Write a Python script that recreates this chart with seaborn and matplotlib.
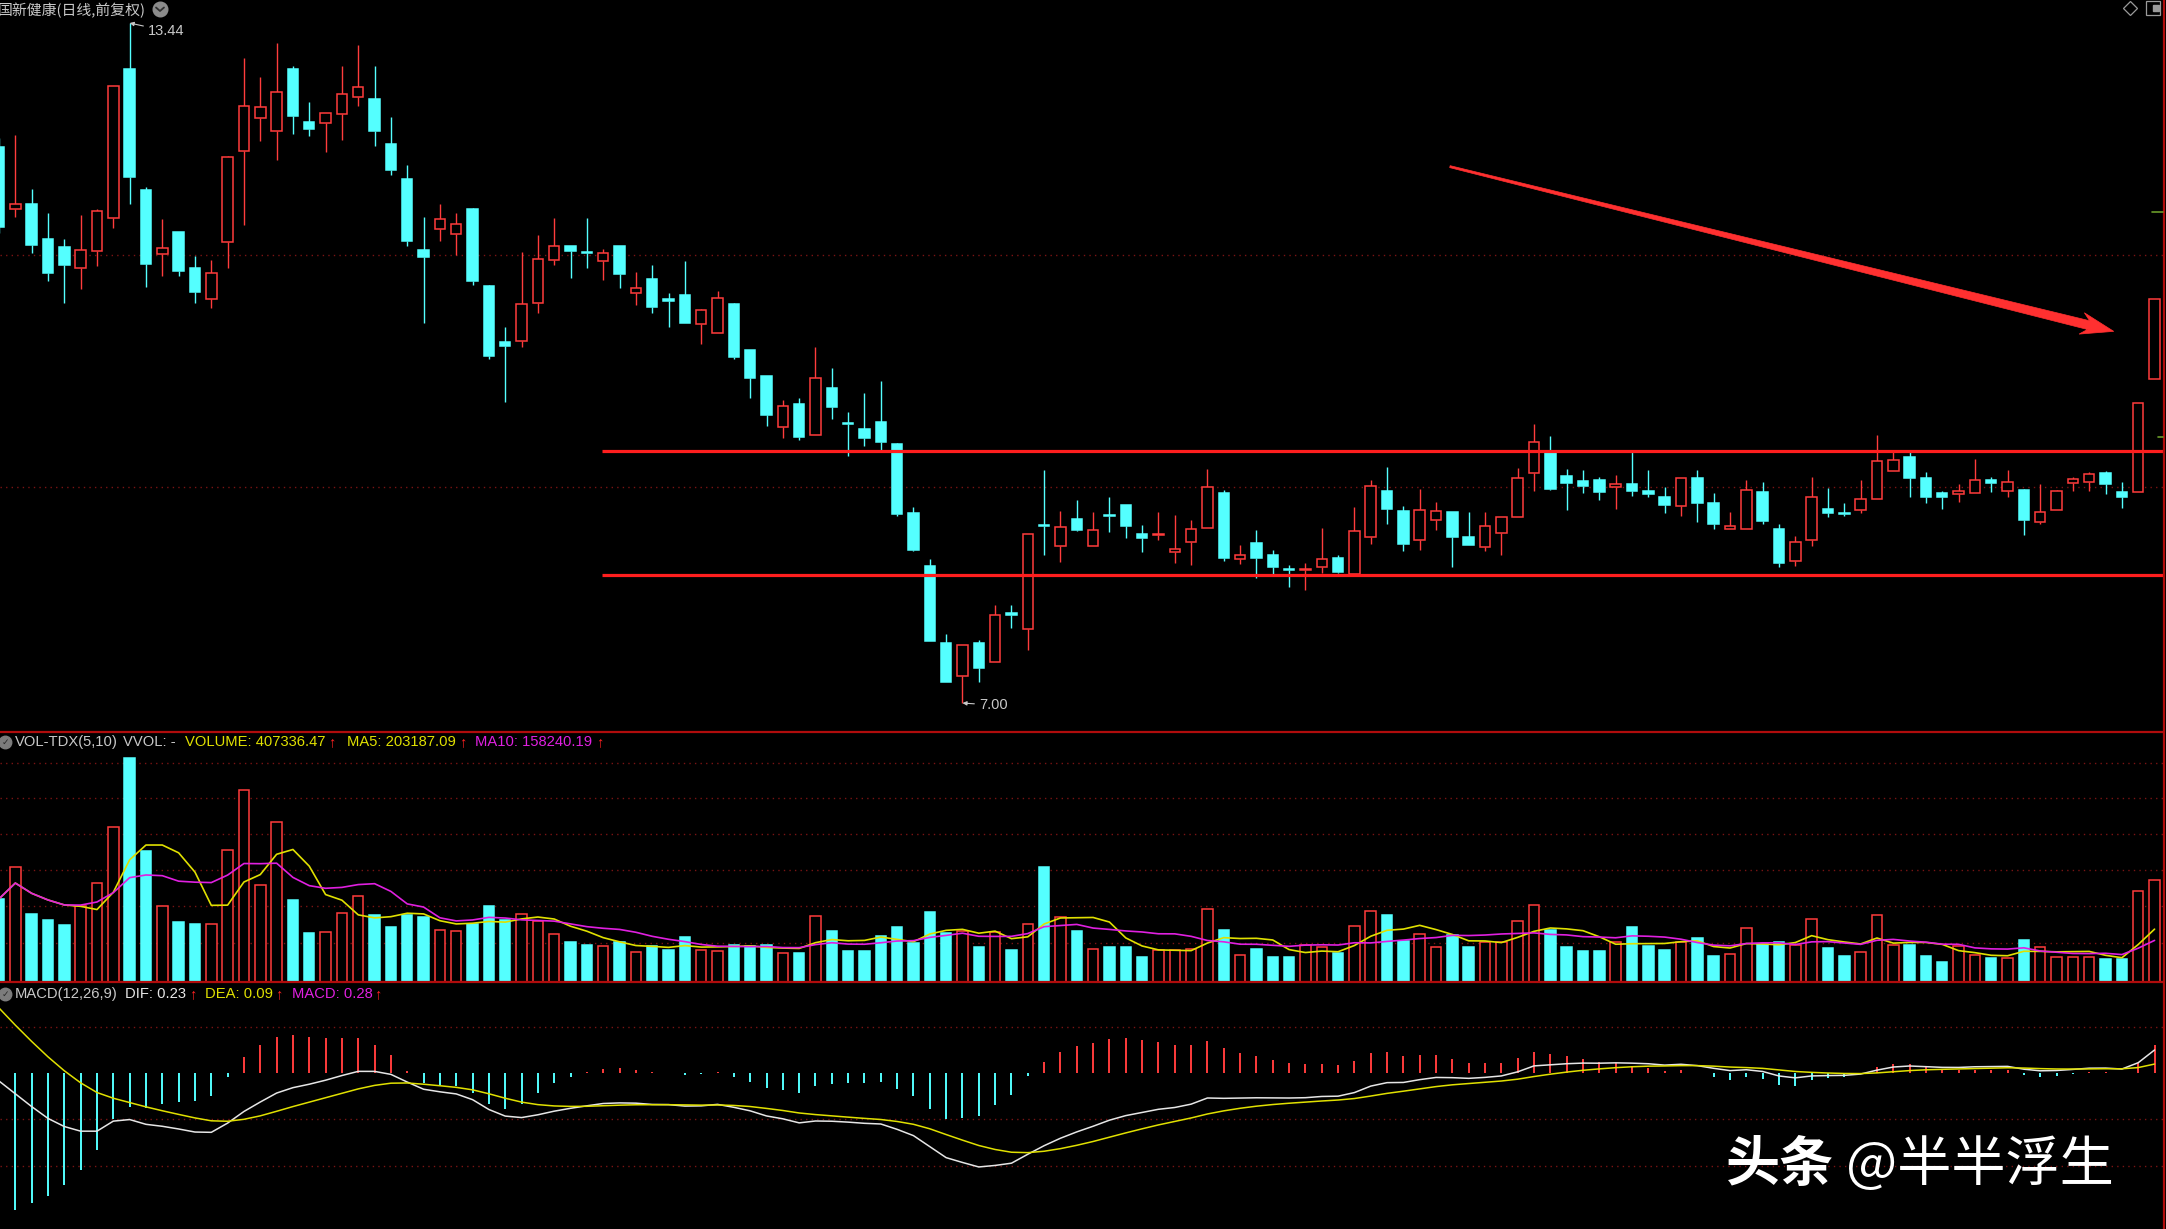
import numpy as np
import pandas as pd
import matplotlib
matplotlib.use("Agg")
import matplotlib.pyplot as plt
import matplotlib.transforms as mtransforms
from matplotlib.lines import Line2D
from matplotlib.patches import Polygon
import seaborn as sns

# ---------------- data ----------------
opens = [12.27, 11.68, 11.73, 11.39, 11.32, 11.12, 11.28, 11.59, 13.00, 11.86,
         11.25, 11.46, 11.12, 10.83, 11.37, 12.23, 12.54, 12.42, 13.00, 12.50,
         12.49, 12.58, 12.74, 12.72, 12.29, 11.96, 11.29, 11.49, 11.44, 11.68,
         10.95, 10.42, 10.43, 10.79, 11.20, 11.33, 11.27, 11.19, 11.33, 10.88,
         11.02, 10.83, 10.86, 10.59, 10.50, 10.78, 10.34, 10.10, 9.61, 9.83,
         9.54, 9.98, 9.65, 9.60, 9.66, 9.45, 8.80, 8.30, 7.57, 7.26,
         7.57, 7.39, 7.85, 7.70, 8.69, 8.49, 8.74, 8.49, 8.78, 8.88,
         8.60, 8.59, 8.43, 8.53, 8.66, 8.99, 8.36, 8.52, 8.40, 8.27,
         8.26, 8.29, 8.37, 8.22, 8.57, 9.01, 8.82, 8.54, 8.73, 8.81,
         8.57, 8.48, 8.61, 8.76, 9.18, 9.39, 9.15, 9.10, 9.11, 9.05,
         9.07, 9.01, 8.95, 8.87, 9.13, 8.89, 8.65, 8.65, 9.00, 8.65,
         8.35, 8.54, 8.84, 8.80, 8.83, 8.93, 9.20, 9.33, 9.13, 8.99,
         8.98, 8.99, 9.11, 9.01, 9.02, 8.71, 8.83, 9.08, 9.09, 9.18,
         9.00, 9.00, 10.07]
highs = [12.35, 12.38, 11.87, 11.64, 11.39, 11.62, 11.68, 12.84, 13.44, 11.89,
         11.58, 11.46, 11.23, 11.20, 12.18, 13.11, 12.93, 13.25, 13.03, 12.69,
         12.59, 13.03, 13.23, 13.03, 12.55, 12.10, 11.60, 11.73, 11.64, 11.69,
         10.96, 10.56, 11.27, 11.43, 11.59, 11.33, 11.59, 11.30, 11.33, 11.08,
         11.15, 10.88, 11.19, 10.73, 10.90, 10.79, 10.34, 10.10, 9.87, 9.89,
         10.37, 10.17, 9.76, 9.94, 10.05, 9.46, 8.86, 8.36, 7.65, 7.55,
         7.60, 7.93, 7.93, 8.60, 9.21, 8.82, 8.92, 8.81, 8.95, 8.88,
         8.69, 8.81, 8.78, 8.73, 9.22, 9.02, 8.50, 8.64, 8.45, 8.31,
         8.33, 8.66, 8.40, 8.86, 9.11, 9.24, 8.87, 9.03, 8.90, 8.81,
         8.81, 8.81, 8.76, 9.23, 9.64, 9.53, 9.22, 9.21, 9.14, 9.16,
         9.39, 9.21, 9.05, 9.13, 9.21, 8.99, 8.81, 9.11, 9.09, 8.70,
         8.58, 9.14, 9.04, 8.89, 9.11, 9.54, 9.39, 9.39, 9.19, 9.01,
         9.07, 9.31, 9.14, 9.21, 9.03, 9.07, 9.02, 9.14, 9.19, 9.20,
         9.09, 9.84, 10.83]
lows = [11.45, 11.60, 11.26, 11.00, 10.79, 10.92, 11.14, 11.50, 11.73, 10.94,
        11.04, 11.04, 10.79, 10.74, 11.12, 11.53, 12.32, 12.14, 12.39, 12.37,
        12.22, 12.33, 12.65, 12.28, 12.00, 11.33, 10.60, 11.38, 11.24, 10.96,
        10.26, 9.85, 10.37, 10.69, 11.15, 11.03, 11.12, 11.01, 10.93, 10.77,
        10.69, 10.56, 10.60, 10.40, 10.50, 10.26, 9.89, 9.62, 9.51, 9.49,
        9.54, 9.69, 9.34, 9.43, 9.40, 8.77, 8.44, 7.59, 7.20, 7.00,
        7.20, 7.39, 7.71, 7.50, 8.40, 8.34, 8.63, 8.49, 8.62, 8.56,
        8.43, 8.54, 8.33, 8.31, 8.66, 8.35, 8.32, 8.18, 8.20, 8.10,
        8.07, 8.23, 8.23, 8.20, 8.51, 8.70, 8.44, 8.45, 8.64, 8.29,
        8.50, 8.44, 8.40, 8.76, 9.01, 9.02, 8.83, 8.99, 8.92, 8.84,
        8.96, 8.95, 8.80, 8.77, 8.71, 8.65, 8.65, 8.65, 8.70, 8.29,
        8.30, 8.49, 8.76, 8.77, 8.80, 8.93, 9.20, 8.95, 8.89, 8.84,
        8.90, 8.99, 9.00, 8.95, 8.59, 8.70, 8.83, 9.01, 9.01, 8.98,
        8.85, 9.00, 10.07]
closes = [11.51, 11.73, 11.34, 11.07, 11.15, 11.29, 11.66, 12.84, 11.98, 11.16,
          11.31, 11.09, 10.89, 11.07, 12.17, 12.65, 12.64, 12.79, 12.56, 12.44,
          12.59, 12.77, 12.83, 12.42, 12.05, 11.38, 11.22, 11.58, 11.54, 11.00,
          10.29, 10.38, 10.78, 11.21, 11.33, 11.28, 11.26, 11.26, 11.06, 10.93,
          10.75, 10.81, 10.60, 10.72, 10.84, 10.28, 10.08, 9.73, 9.81, 9.52,
          10.08, 9.80, 9.64, 9.51, 9.47, 8.79, 8.45, 7.59, 7.20, 7.55,
          7.33, 7.83, 7.83, 8.60, 8.68, 8.67, 8.64, 8.64, 8.77, 8.68,
          8.56, 8.60, 8.46, 8.65, 9.05, 8.37, 8.40, 8.37, 8.29, 8.26,
          8.27, 8.36, 8.24, 8.63, 9.06, 8.84, 8.51, 8.83, 8.82, 8.57,
          8.50, 8.68, 8.76, 9.13, 9.47, 9.03, 9.08, 9.06, 9.00, 9.07,
          9.01, 8.98, 8.88, 9.13, 8.89, 8.70, 8.68, 9.02, 8.72, 8.33,
          8.53, 8.95, 8.80, 8.79, 8.93, 9.29, 9.30, 9.13, 8.95, 8.95,
          9.01, 9.11, 9.08, 9.09, 8.73, 8.81, 9.01, 9.12, 9.17, 9.07,
          8.95, 9.84, 10.83]
# volume in units of 10,000 shares (万手)
volumes = [33.2, 45.8, 27.2, 24.8, 22.8, 30.4, 39.4, 61.7, 89.6, 52.3,
           30.4, 23.9, 23.2, 23.2, 52.7, 76.6, 38.7, 63.7, 32.8, 19.4,
           19.9, 27.5, 34.4, 26.8, 21.8, 26.8, 26.1, 20.8, 20.4, 23.2,
           30.3, 24.8, 27.2, 24.2, 19.2, 15.9, 14.9, 14.3, 15.9, 11.8,
           14.2, 12.9, 17.9, 12.9, 12.2, 14.9, 14.2, 14.9, 11.5, 11.5,
           26.4, 20.4, 12.5, 12.2, 18.2, 21.8, 15.7, 27.9, 19.5, 20.2,
           14.1, 19.8, 12.9, 23.2, 45.8, 26.1, 20.4, 13.3, 14.1, 14.1,
           10.0, 12.6, 12.6, 13.3, 29.2, 20.8, 10.9, 13.0, 10.0, 10.0,
           14.9, 13.8, 11.7, 22.4, 28.5, 26.8, 16.2, 19.2, 13.9, 18.8,
           14.1, 15.9, 15.9, 24.4, 30.8, 20.8, 14.1, 12.3, 12.3, 15.9,
           21.8, 14.3, 12.6, 15.9, 17.5, 10.5, 11.3, 21.5, 15.1, 15.9,
           14.9, 25.1, 13.5, 10.5, 11.9, 26.8, 14.9, 14.9, 10.5, 8.0,
           14.3, 10.9, 9.6, 9.6, 16.9, 14.1, 10.0, 10.0, 10.0, 9.2,
           9.2, 36.4, 40.7]

support_levels = [9.39, 8.21]          # the two hand-drawn red lines
support_start = 36.9                    # candle position where they begin
arrow_from = (88.85, 12.08)             # hand-drawn red arrow (candle pos, price)
arrow_to = (129.5, 10.52)
# MACD state at the left edge
seed_ema12, seed_dif, seed_dea = 13.4, -0.08, 0.65

title = "国新健康(日线,前复权)"
vol_header = ["VOL-TDX(5,10)", "VVOL: -", "VOLUME: 407336.47", "MA5: 203187.09", "MA10: 158240.19"]
macd_header = ["MACD(12,26,9)", "DIF: 0.23", "DEA: 0.09", "MACD: 0.28"]

# ---------------- style ----------------
sns.set_theme(style="dark", rc={"axes.facecolor": "black", "figure.facecolor": "black",
                                "savefig.facecolor": "black"})
plt.rcParams['font.family'] = ['Liberation Sans', 'Noto Sans CJK SC', 'DejaVu Sans']

RED = "#ff3c3c"
CYAN = "#54ffff"
YEL = "#e0e000"
MAG = "#e020e0"
GRAY = "#c8c8c8"
GRID = "#7a1414"
PANEL = "#b00c0c"

W, H = 2166, 1229
fig = plt.figure(figsize=(W / 100, H / 100), dpi=100)
pix = mtransforms.Affine2D().scale(1.0 / W, -1.0 / H).translate(0, 1) + fig.transFigure

SP = 16.33
RIGHT = 2163
XL = ((0 + 1) / SP, (RIGHT + 1) / SP)


def add_ax(y0, y1, ylim):
    ax = fig.add_axes([0, 1 - y1 / H, RIGHT / W, (y1 - y0) / H])
    ax.set_facecolor("black")
    ax.set_xlim(*XL)
    ax.set_ylim(*ylim)
    ax.set_axis_off()
    return ax


ax_p = add_ax(0, 732, (6.726, 13.658))
ax_v = add_ax(732, 982, (0, 99.8))
ax_m = add_ax(982, 1229, (-1.56, 0.91))

n = len(closes)
x = np.arange(n)
o = np.array(opens); h = np.array(highs); l = np.array(lows); c = np.array(closes)
up = c >= o
col = np.where(up, RED, CYAN)

# grids
for lv in [11.24, 9.05]:
    ax_p.axhline(lv, color=GRID, ls=(0, (1, 3)), lw=1, zorder=0)
for lv in [87.5, 73.6, 59.2, 44.8, 30.5, 15.7]:
    ax_v.axhline(lv, color=GRID, ls=(0, (1, 3)), lw=1, zorder=0)
for lv in [0.46, -0.46, -0.93]:
    ax_m.axhline(lv, color=GRID, ls=(0, (1, 3)), lw=1, zorder=0)

# candles
bt = np.maximum(o, c); bb = np.minimum(o, c)
ax_p.vlines(x, bt, h, colors=col, lw=1.0, zorder=2)
ax_p.vlines(x, l, bb, colors=col, lw=1.0, zorder=2)
ax_p.bar(x, np.maximum(bt - bb, 0.006), bottom=bb, width=0.64,
         color=np.where(up, "black", CYAN), edgecolor=col, linewidth=1.1, zorder=3)

# support lines
ax_p.hlines(support_levels, support_start, XL[1], colors="#ff1e1e", lw=2.3, zorder=4)

# red arrow (built in display space)
p0 = ax_p.transData.transform(arrow_from)
p1 = ax_p.transData.transform(arrow_to)
d = p1 - p0
L = np.hypot(*d)
u = d / L
nv = np.array([-u[1], u[0]])
pts = [(0, -1.0), (L - 26, -4.5), (L - 33, -11), (L, 0), (L - 33, 11), (L - 26, 4.5), (0, 1.0)]
poly = [p0 + s * u + t * nv for s, t in pts]
fig.add_artist(Polygon(poly, closed=True, transform=None, facecolor="#ff3030",
                       edgecolor="#ff3030", lw=0.5, zorder=6))

# high / low labels
ih = int(np.argmax(h)); il = int(np.argmin(l))
ax_p.annotate(f"{h[ih]:.2f}", xy=(ih, h[ih]), xytext=(148, 31), textcoords=pix,
              color=GRAY, fontsize=10.5, va="center", ha="left",
              arrowprops=dict(arrowstyle="-|>", color=GRAY, lw=0.8, mutation_scale=6,
                              shrinkA=1, shrinkB=0))
ax_p.annotate(f"{l[il]:.2f}", xy=(il, l[il]), xytext=(979, 705), textcoords=pix,
              color=GRAY, fontsize=10.5, va="center", ha="left",
              arrowprops=dict(arrowstyle="-|>", color=GRAY, lw=0.8, mutation_scale=6,
                              shrinkA=1, shrinkB=0))

# volume
vol = np.array(volumes)
ax_v.bar(x, vol, width=0.64, color=np.where(up, "black", CYAN), edgecolor=col,
         linewidth=1.1, zorder=2)
vs = pd.Series(vol)
ma5 = vs.rolling(5, min_periods=1).mean()
ma10 = vs.rolling(10, min_periods=1).mean()
sns.lineplot(x=x, y=ma5.values, ax=ax_v, color=YEL, lw=1.2, zorder=4)
sns.lineplot(x=x, y=ma10.values, ax=ax_v, color=MAG, lw=1.2, zorder=4)
ax_v.set_xlim(*XL); ax_v.set_ylim(0, 99.8); ax_v.set_axis_off()

# MACD
e12 = seed_ema12
e26 = seed_ema12 - seed_dif
dea = seed_dea
difs = [seed_dif]; deas = [seed_dea]
for cc in closes[1:]:
    e12 += (cc - e12) * 2 / 13
    e26 += (cc - e26) * 2 / 27
    df = e12 - e26
    dea += (df - dea) * 2 / 10
    difs.append(df); deas.append(dea)
difs = np.array(difs); deas = np.array(deas)
macd = 2 * (difs - deas)
ax_m.vlines(x, 0, macd, colors=np.where(macd >= 0, RED, CYAN), lw=1.4, zorder=2)
sns.lineplot(x=x, y=difs, ax=ax_m, color="#e6e6e6", lw=1.1, zorder=4)
sns.lineplot(x=x, y=deas, ax=ax_m, color=YEL, lw=1.1, zorder=4)
ax_m.set_xlim(*XL); ax_m.set_ylim(-1.56, 0.91); ax_m.set_axis_off()

# panel separators and border
for yy in (732, 982):
    fig.add_artist(Line2D([0, RIGHT], [yy, yy], transform=pix, color=PANEL, lw=1.6))
fig.add_artist(Line2D([RIGHT + 1, RIGHT + 1], [0, H], transform=pix, color=PANEL, lw=1.6))
# small green markers on the right edge
fig.add_artist(Line2D([2152, RIGHT], [212, 212], transform=pix, color="#6a9a2a", lw=1.2))
fig.add_artist(Line2D([2158, RIGHT], [437, 437], transform=pix, color="#6a9a2a", lw=1.2))

# title + icons
fig.text(-2, 10, title, transform=pix, color=GRAY, fontsize=10.7, va="center", ha="left",
         family=["Noto Sans CJK SC", "DejaVu Sans"])
fig.add_artist(Line2D([160], [9], transform=pix, marker="o", markersize=10.5,
                      color="#8c8c8c", lw=0))
fig.add_artist(Line2D([156, 160, 164], [7.5, 11, 7.5], transform=pix, color="#303030", lw=1.3))
fig.add_artist(Line2D([2130], [8], transform=pix, marker="D", markersize=7, mfc="none",
                      mec="#9a9a9a", mew=0.9, lw=0))
fig.add_artist(Line2D([2153], [8], transform=pix, marker="s", markersize=10, mfc="none",
                      mec="#9a9a9a", mew=0.9, lw=0))
fig.add_artist(Line2D([2156], [8], transform=pix, marker="s", markersize=4, color="#9a9a9a", lw=0))


def header_icon(yc):
    fig.add_artist(Line2D([5], [yc], transform=pix, marker="o", markersize=9,
                          color="#7c7c7c", lw=0))
    fig.text(5, yc, "✓", transform=pix, color="#2a2a2a", fontsize=6.5, ha="center",
             va="center", family=["DejaVu Sans"])


FS = 10.6
header_icon(742)
yv = 742
fig.text(15, yv, vol_header[0], transform=pix, color=GRAY, fontsize=FS, va="center")
fig.text(123, yv, vol_header[1], transform=pix, color=GRAY, fontsize=FS, va="center")
fig.text(185, yv, vol_header[2], transform=pix, color=YEL, fontsize=FS, va="center")
fig.text(328, yv, "↑", transform=pix, color="#ff2020", fontsize=FS, va="center")
fig.text(347, yv, vol_header[3], transform=pix, color=YEL, fontsize=FS, va="center")
fig.text(459, yv, "↑", transform=pix, color="#ff2020", fontsize=FS, va="center")
fig.text(475, yv, vol_header[4], transform=pix, color=MAG, fontsize=FS, va="center")
fig.text(596, yv, "↑", transform=pix, color="#ff2020", fontsize=FS, va="center")

header_icon(994)
ym = 994
fig.text(15, ym, macd_header[0], transform=pix, color=GRAY, fontsize=FS, va="center")
fig.text(125, ym, macd_header[1], transform=pix, color="#e6e6e6", fontsize=FS, va="center")
fig.text(189, ym, "↑", transform=pix, color="#ff2020", fontsize=FS, va="center")
fig.text(205, ym, macd_header[2], transform=pix, color=YEL, fontsize=FS, va="center")
fig.text(275, ym, "↑", transform=pix, color="#ff2020", fontsize=FS, va="center")
fig.text(292, ym, macd_header[3], transform=pix, color=MAG, fontsize=FS, va="center")
fig.text(374, ym, "↑", transform=pix, color="#ff2020", fontsize=FS, va="center")

# watermark
fig.text(1726, 1165, "头条", transform=pix, color="white", fontsize=39, fontweight="bold",
         va="center", ha="left", family=["Noto Sans CJK SC"])
fig.text(1846, 1165, "@半半浮生", transform=pix, color="white", fontsize=39,
         va="center", ha="left", family=["Noto Sans CJK SC", "DejaVu Sans"])

fig.savefig("out.png", dpi=100, facecolor="black")
